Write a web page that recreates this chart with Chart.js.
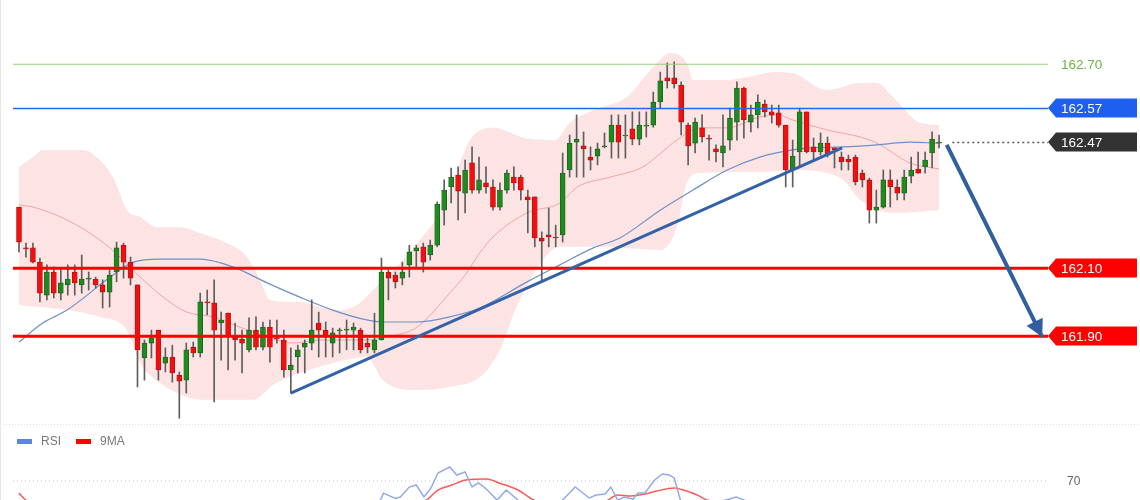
<!DOCTYPE html>
<html>
<head>
<meta charset="utf-8">
<script src="https://cdn.jsdelivr.net/npm/chart.js@4.4.1/dist/chart.umd.min.js"></script>
<style>
  html, body { margin: 0; padding: 0; background: #fff; overflow: hidden; }
  #wrap { position: relative; width: 1140px; height: 500px; overflow: hidden; background: #fff; }
  #priceChart { position: absolute; left: 0; top: 0; }
  #rsiChart { position: absolute; left: 0; top: 424px; }
</style>
</head>
<body>
<div id="wrap">
  <canvas id="priceChart" width="1140" height="424"></canvas>
  <canvas id="rsiChart" width="1140" height="150"></canvas>
</div>
<script>
// candles, one per bar from the left
const opens = [162.280,162.160,162.160,162.118,162.021,162.089,162.027,162.051,162.089,162.051,
  162.068,162.068,162.051,162.030,162.089,162.168,162.118,162.051,161.836,161.880,
  161.918,161.821,161.839,161.786,161.771,161.868,161.851,162.001,161.998,161.939,
  161.968,161.898,161.892,161.860,161.918,161.868,161.927,161.895,161.889,161.801,
  161.839,161.868,161.880,161.939,161.918,161.880,161.916,161.918,161.918,161.918,
  161.880,161.860,161.889,162.089,162.080,162.071,162.110,162.151,162.163,162.139,
  162.168,162.271,162.339,162.374,162.321,162.410,162.330,162.351,162.339,162.280,
  162.330,162.368,162.368,162.310,162.310,162.189,162.198,162.192,162.198,162.389,
  162.471,162.460,162.427,162.430,162.457,162.471,162.521,162.489,162.510,162.480,
  162.518,162.521,162.589,162.660,162.660,162.639,162.521,162.468,162.513,162.483,
  162.451,162.439,162.477,162.530,162.630,162.530,162.551,162.583,162.560,162.557,
  162.521,162.389,162.442,162.560,162.457,162.442,162.468,162.454,162.427,162.421,
  162.427,162.380,162.360,162.271,162.280,162.360,162.339,162.321,162.371,162.392,
  162.398,162.439,162.468];
const highs = [162.280,162.174,162.174,162.130,162.110,162.104,162.101,162.110,162.110,162.139,
  162.089,162.074,162.066,162.095,162.177,162.174,162.133,162.051,161.889,161.918,
  161.918,161.866,161.874,161.795,161.880,161.883,162.027,162.036,162.066,161.971,
  161.968,161.939,161.918,161.954,161.957,161.942,161.948,161.948,161.918,161.866,
  161.874,161.889,162.007,161.971,161.942,161.924,161.924,161.948,161.939,161.924,
  161.895,161.968,162.130,162.095,162.089,162.118,162.168,162.168,162.174,162.183,
  162.295,162.360,162.395,162.398,162.418,162.457,162.427,162.398,162.360,162.351,
  162.389,162.398,162.374,162.330,162.310,162.207,162.277,162.227,162.439,162.492,
  162.551,162.501,162.457,162.468,162.498,162.551,162.551,162.551,162.560,162.560,
  162.560,162.618,162.677,162.704,162.707,162.648,162.527,162.542,162.551,162.492,
  162.463,162.551,162.571,162.648,162.633,162.580,162.610,162.595,162.580,162.580,
  162.521,162.477,162.571,162.560,162.483,162.498,162.486,162.454,162.442,162.433,
  162.433,162.389,162.365,162.330,162.389,162.389,162.360,162.389,162.427,162.442,
  162.442,162.501,162.492];
const lows = [162.148,162.133,162.116,162.001,162.007,162.013,162.007,162.021,162.021,162.027,
  162.036,162.042,161.983,161.986,162.060,162.071,162.051,161.751,161.771,161.836,
  161.771,161.795,161.765,161.659,161.733,161.839,161.839,161.963,161.707,161.830,
  161.801,161.830,161.792,161.854,161.860,161.860,161.824,161.880,161.780,161.733,
  161.792,161.792,161.860,161.839,161.839,161.839,161.851,161.860,161.860,161.851,
  161.851,161.851,161.889,162.007,162.042,162.051,162.074,162.101,162.089,162.124,
  162.163,162.227,162.292,162.242,162.263,162.321,162.321,162.321,162.271,162.271,
  162.321,162.330,162.301,162.204,162.163,162.060,162.163,162.163,162.177,162.368,
  162.368,162.368,162.389,162.404,162.454,162.424,162.424,162.424,162.463,162.463,
  162.486,162.515,162.571,162.630,162.630,162.492,162.404,162.439,162.471,162.418,
  162.413,162.398,162.448,162.477,162.483,162.501,162.513,162.545,162.527,162.515,
  162.339,162.339,162.398,162.439,162.418,162.433,162.427,162.395,162.389,162.389,
  162.345,162.339,162.233,162.233,162.277,162.280,162.301,162.301,162.351,162.380,
  162.380,162.395,162.454];
const closes = [162.177,162.157,162.118,162.027,162.089,162.027,162.057,162.068,162.057,162.068,
  162.071,162.051,162.030,162.080,162.160,162.118,162.071,161.860,161.880,161.895,
  161.801,161.839,161.792,161.768,161.860,161.851,162.001,161.998,161.918,161.948,
  161.898,161.889,161.880,161.918,161.868,161.927,161.868,161.892,161.801,161.815,
  161.860,161.880,161.918,161.918,161.898,161.910,161.918,161.921,161.927,161.860,
  161.868,161.889,162.089,162.071,162.060,162.089,162.148,162.160,162.118,162.168,
  162.289,162.330,162.368,162.327,162.389,162.330,162.360,162.339,162.280,162.330,
  162.380,162.351,162.330,162.301,162.189,162.180,162.192,162.189,162.380,162.468,
  162.480,162.451,162.418,162.451,162.460,162.521,162.471,162.492,162.480,162.521,
  162.521,162.589,162.651,162.651,162.642,162.530,162.460,162.530,162.486,162.480,
  162.442,162.460,162.542,162.630,162.536,162.551,162.589,162.560,162.551,162.521,
  162.389,162.430,162.560,162.442,162.442,162.468,162.433,162.448,162.413,162.413,
  162.354,162.360,162.271,162.280,162.360,162.339,162.321,162.368,162.389,162.380,
  162.418,162.480,162.471];

// bollinger band and moving averages, read at bar positions
const upperIdx = [0,2,3.4,9.2,11.6,13.5,15.5,17.4,19.8,23.1,26,29.8,32.7,34.6,36,40.3,43.2,46.1,48.9,50.8,
  54.7,57.5,60.4,62.6,64.7,68,72.6,76.9,79,82.4,87.2,91,93.4,95.8,96.7,101.6,108.8,111,115.9,120.7,
  123.1,125.4,129.3,132];
const upperBand = [162.398,162.427,162.448,162.448,162.418,162.368,162.271,162.251,162.221,162.221,
  162.204,162.174,162.133,162.065,162.007,162.001,161.986,161.977,161.998,162.036,
  162.115,162.183,162.263,162.374,162.477,162.513,162.483,162.477,162.527,162.565,
  162.604,162.692,162.733,162.704,162.654,162.654,162.677,162.674,162.624,162.645,
  162.645,162.604,162.527,162.521];
const lowerIdx = [0,6.9,11.6,15.5,17.4,20.2,24.1,27.8,33.6,36.4,40.3,45,49.9,52.2,57.1,61.8,66.1,69,71.2,74.7,
  77.6,82.4,92,94.4,95.8,97.7,106.3,111,115.9,118.2,120.7,125.4,132];
const lowerBand = [161.992,161.977,161.957,161.918,161.821,161.763,161.721,161.713,161.713,161.757,
  161.792,161.821,161.839,161.771,161.742,161.751,161.780,161.860,161.977,162.110,
  162.163,162.163,162.154,162.221,162.351,162.380,162.383,162.389,162.380,162.360,
  162.301,162.263,162.271];
const midIdx = [0,2,6.9,11.6,14.5,17.4,21.2,24.1,27.8,31.7,35.6,39.3,43.2,49.9,52.8,57.1,61.8,64,66.1,68,
  72.9,77.6,80.1,84.8,89.5,94.4,97.7,101.6,106.3,108.8,111,115.9,120.7,123.1,127.8,132];
const midBand = [162.286,162.280,162.242,162.183,162.133,162.074,162.007,161.971,161.957,161.927,
  161.898,161.880,161.889,161.889,161.898,161.927,162.027,162.080,162.145,162.192,
  162.263,162.292,162.339,162.368,162.398,162.477,162.513,162.513,162.545,162.551,
  162.536,162.507,162.486,162.468,162.410,162.392];
const maIdx = [0,3.4,6.9,13.1,16.4,20.2,26,30.7,35.6,40.3,45,49.9,52.2,57.1,61.8,66.1,72.9,77.6,82.4,86.2,
  92,96.7,101.6,106.3,111,113.5,118.2,123.1,127.8,132];
const maLine = [161.883,161.939,161.977,162.074,162.118,162.127,162.127,162.104,162.057,162.015,
  161.977,161.948,161.942,161.942,161.957,161.983,162.060,162.110,162.160,162.189,
  162.271,162.330,162.389,162.427,162.448,162.454,162.457,162.463,162.471,162.468];

// price levels, trend line and target arrow
const levels = [162.70, 162.57, 162.47, 162.10, 161.90];
const trendIdx = [39, 118.1];
const trendVal = [161.733, 162.454];
const arrowIdx = [133.1, 146.8];
const arrowVal = [162.463, 161.898];

// RSI panel
const rsiIdx = [0,5,10,15,18,25,30,35,40,45,50,51.5,52.3,54,54.7,56,57,58.1,59.1,60.1,
  61.8,62.8,64,65,65.9,66.9,68.6,69.9,71.6,73,76,78,79.8,81.8,82.8,84.1,84.9,85.9,86.8,88.1,
  88.8,89.8,91.2,92.3,93.3,94,95,97,100,102.9,105,111,115,120,123,128,132];
const rsiVal = [45,35,40,46,30,35,40,38,32,40,38,42,56,50,51.6,63,65.4,51.6,61.9,79.2,
  86.2,76.9,80.4,63.1,67.7,61.9,48,59.6,48,40,28,48,63.1,50.4,53.9,55,63.1,48,51.6,49.2,
  56.2,56.2,71.2,78.1,76.9,73.5,45,35,45,51.6,45,25,35,30,22,35,45];
const rsiMaIdx = [0,1,5,15,25,35,45,55,58.4,60.1,62.1,64.1,67.1,68.9,71.6,73.9,78,82,84.5,85.8,
  87.8,89.8,91.5,94,95.3,97.3,98.7,105,115,125,132];
const rsiMaVal = [56,48,40,38,36,38,37,42,48,59.6,65.4,71.2,72.3,67.7,59.6,48,40,44,48,53.9,
  52.7,55,58.5,61.9,59.6,53.9,48,42,35,30,35];
const rsiLevel = 70;

const X_MIN = -0.86, X_MAX = 147.63;
const FONT = '"Liberation Sans", Arial, sans-serif';

const pts = (xs, ys) => xs.map((x, i) => ({ x: x, y: ys[i] }));

// light pink, faintly textured fill for the band
function bandPattern() {
  const c = document.createElement('canvas');
  c.width = 4; c.height = 4;
  const g = c.getContext('2d');
  g.fillStyle = 'rgba(251,200,200,0.48)';
  g.fillRect(0, 0, 4, 4);
  g.fillStyle = 'rgba(240,175,175,0.16)';
  g.fillRect(0, 3, 1, 1);
  g.fillRect(2, 1, 1, 1);
  return g.createPattern(c, 'repeat');
}

const levelStyle = [
  { line: '#95d27a', text: '#6cb444', width: 1, tag: false },
  { line: '#2866f0', fill: '#1f5ff0', width: 1.5, tag: true },
  { line: '#555555', fill: '#333333', width: 1.5, tag: true, dash: [2, 3], from: 133.9 },
  { line: '#ff0000', fill: '#ff0000', width: 3, tag: true },
  { line: '#ff0000', fill: '#ff0000', width: 3, tag: true }
];

const bodyColors = closes.map((c, i) => c >= opens[i] ? '#1f8a1f' : '#f20f0f');
const bodyBorders = closes.map((c, i) => c >= opens[i] ? '#1a5e1a' : '#b01010');

const levelSets = levels.map((v, k) => ({
  type: 'line',
  label: 'level ' + v,
  data: [{ x: levelStyle[k].from ?? X_MIN, y: v }, { x: X_MAX, y: v }],
  borderColor: levelStyle[k].line,
  borderWidth: levelStyle[k].width,
  borderDash: levelStyle[k].dash || [],
  pointRadius: 0,
  fill: false,
  order: 3
}));

// tags on the right + arrow head
const tagPlugin = {
  id: 'levelTags',
  beforeDraw(chart) {
    const ctx = chart.ctx;
    ctx.save();
    ctx.fillStyle = '#fff';
    ctx.fillRect(0, 0, chart.width, chart.height);
    ctx.strokeStyle = '#e4e8ea';
    ctx.lineWidth = 1;
    ctx.beginPath();
    ctx.moveTo(0.5, 0);
    ctx.lineTo(0.5, chart.height);
    ctx.stroke();
    ctx.restore();
  },
  afterDatasetsDraw(chart) {
    const { ctx, chartArea, scales } = chart;
    ctx.save();
    ctx.font = '13.5px ' + FONT;
    ctx.textBaseline = 'middle';
    levels.forEach((v, k) => {
      const st = levelStyle[k];
      const y = Math.round(scales.y.getPixelForValue(v));
      const x0 = chartArea.right;
      if (st.tag) {
        ctx.fillStyle = st.fill;
        ctx.beginPath();
        ctx.moveTo(x0, y);
        ctx.lineTo(x0 + 8, y - 9.5);
        ctx.lineTo(1137, y - 9.5);
        ctx.lineTo(1137, y + 9.5);
        ctx.lineTo(x0 + 8, y + 9.5);
        ctx.closePath();
        ctx.fill();
        ctx.fillStyle = '#fff';
      } else {
        ctx.fillStyle = st.text;
      }
      ctx.fillText(v.toFixed(2), x0 + 13, y + 1);
    });

    // arrow head
    const x0 = scales.x.getPixelForValue(arrowIdx[0]);
    const y0 = scales.y.getPixelForValue(arrowVal[0]);
    const x1 = scales.x.getPixelForValue(arrowIdx[1]);
    const y1 = scales.y.getPixelForValue(arrowVal[1]);
    const a = Math.atan2(y1 - y0, x1 - x0);
    const len = 17, half = 9;
    ctx.fillStyle = '#2f5f9e';
    ctx.beginPath();
    ctx.moveTo(x1, y1);
    ctx.lineTo(x1 - len * Math.cos(a) + half * Math.sin(a), y1 - len * Math.sin(a) - half * Math.cos(a));
    ctx.lineTo(x1 - len * Math.cos(a) - half * Math.sin(a), y1 - len * Math.sin(a) + half * Math.cos(a));
    ctx.closePath();
    ctx.fill();
    ctx.restore();
  }
};

new Chart(document.getElementById('priceChart'), {
  type: 'bar',
  data: {
    datasets: [
      {
        type: 'line', label: 'BB upper', data: pts(upperIdx, upperBand),
        borderColor: 'rgba(0,0,0,0)', borderWidth: 1, backgroundColor: bandPattern(),
        fill: '+1', pointRadius: 0, cubicInterpolationMode: 'monotone', order: 20
      },
      {
        type: 'line', label: 'BB lower', data: pts(lowerIdx, lowerBand),
        borderColor: 'rgba(0,0,0,0)', borderWidth: 1, fill: false,
        pointRadius: 0, cubicInterpolationMode: 'monotone', order: 19
      },
      {
        type: 'line', label: 'BB mid', data: pts(midIdx, midBand),
        borderColor: '#f5a3a3', borderWidth: 1, fill: false,
        pointRadius: 0, cubicInterpolationMode: 'monotone', order: 18
      },
      {
        type: 'line', label: 'MA', data: pts(maIdx, maLine),
        borderColor: '#6f8fc6', borderWidth: 1.2, fill: false,
        pointRadius: 0, cubicInterpolationMode: 'monotone', order: 17
      },
      {
        label: 'wick',
        data: opens.map((o, i) => ({ x: i, y: [lows[i], highs[i]] })),
        backgroundColor: '#5e5e5e', barThickness: 1, grouped: false, order: 12
      },
      {
        label: 'body',
        data: opens.map((o, i) => ({ x: i, y: [o, closes[i]] })),
        backgroundColor: bodyColors, borderColor: bodyBorders, borderWidth: 0.8,
        borderSkipped: false, barThickness: 5, minBarLength: 1, grouped: false, order: 11
      },
      ...levelSets,
      {
        type: 'line', label: 'trend', data: pts(trendIdx, trendVal),
        borderColor: '#3462a8', borderWidth: 3, pointRadius: 0, fill: false, order: 2
      },
      {
        type: 'line', label: 'arrow', data: pts(arrowIdx, arrowVal),
        borderColor: '#2f5f9e', borderWidth: 4, pointRadius: 0, fill: false, order: 1
      }
    ]
  },
  options: {
    responsive: false,
    animation: false,
    devicePixelRatio: 1,
    layout: { padding: { left: 13, right: 92, top: 0, bottom: 0 } },
    plugins: { legend: { display: false }, tooltip: { enabled: false } },
    scales: {
      x: { type: 'linear', min: X_MIN, max: X_MAX, offset: false, display: false },
      y: { min: 161.642, max: 162.889, display: false }
    }
  },
  plugins: [tagPlugin]
});

// RSI panel: legend + level label
const legendColors = ['#5a85e6', '#ff0000'];
const rsiPlugin = {
  id: 'rsiDecor',
  beforeDraw(chart) {
    const ctx = chart.ctx;
    ctx.save();
    ctx.fillStyle = '#fff';
    ctx.fillRect(0, 0, chart.width, chart.height);
    ctx.strokeStyle = '#d9e3e3';
    ctx.lineWidth = 1;
    ctx.setLineDash([1, 2]);
    ctx.beginPath();
    ctx.moveTo(0, 0.5);
    ctx.lineTo(chart.width, 0.5);
    ctx.stroke();
    ctx.setLineDash([]);
    ctx.strokeStyle = '#e4e8ea';
    ctx.beginPath();
    ctx.moveTo(0.5, 0);
    ctx.lineTo(0.5, chart.height);
    ctx.stroke();
    ctx.restore();
  },
  afterDraw(chart) {
    const { ctx, chartArea, scales } = chart;
    ctx.save();
    ctx.font = '12px ' + FONT;
    ctx.textBaseline = 'middle';
    let x = 17;
    chart.data.datasets.slice(0, 2).forEach((ds, k) => {
      ctx.fillStyle = legendColors[k];
      ctx.fillRect(x, 15, 15, 5);
      ctx.fillStyle = '#777';
      ctx.fillText(ds.label, x + 24, 18);
      x += 59;
    });
    ctx.fillStyle = '#666';
    ctx.fillText(String(rsiLevel), chartArea.right + 19, scales.y.getPixelForValue(rsiLevel) + 1);
    ctx.restore();
  }
};

new Chart(document.getElementById('rsiChart'), {
  type: 'line',
  data: {
    datasets: [
      {
        label: 'RSI', data: pts(rsiIdx, rsiVal),
        borderColor: '#92abea', borderWidth: 1.5, pointRadius: 0, tension: 0, fill: false
      },
      {
        label: '9MA', data: pts(rsiMaIdx, rsiMaVal),
        borderColor: '#ff5a5a', borderWidth: 1.5, pointRadius: 0,
        cubicInterpolationMode: 'monotone', fill: false
      },
      {
        label: 'level', data: [{ x: X_MIN, y: rsiLevel }, { x: X_MAX, y: rsiLevel }],
        borderColor: '#c2c2c2', borderWidth: 1, borderDash: [1, 3], pointRadius: 0, fill: false
      }
    ]
  },
  options: {
    responsive: false,
    animation: false,
    devicePixelRatio: 1,
    layout: { padding: { left: 13, right: 92, top: 31, bottom: 32.3 } },
    plugins: { legend: { display: false }, tooltip: { enabled: false } },
    scales: {
      x: { type: 'linear', min: X_MIN, max: X_MAX, display: false },
      y: { min: 0, max: 100, display: false }
    }
  },
  plugins: [rsiPlugin]
});
</script>
</body>
</html>
